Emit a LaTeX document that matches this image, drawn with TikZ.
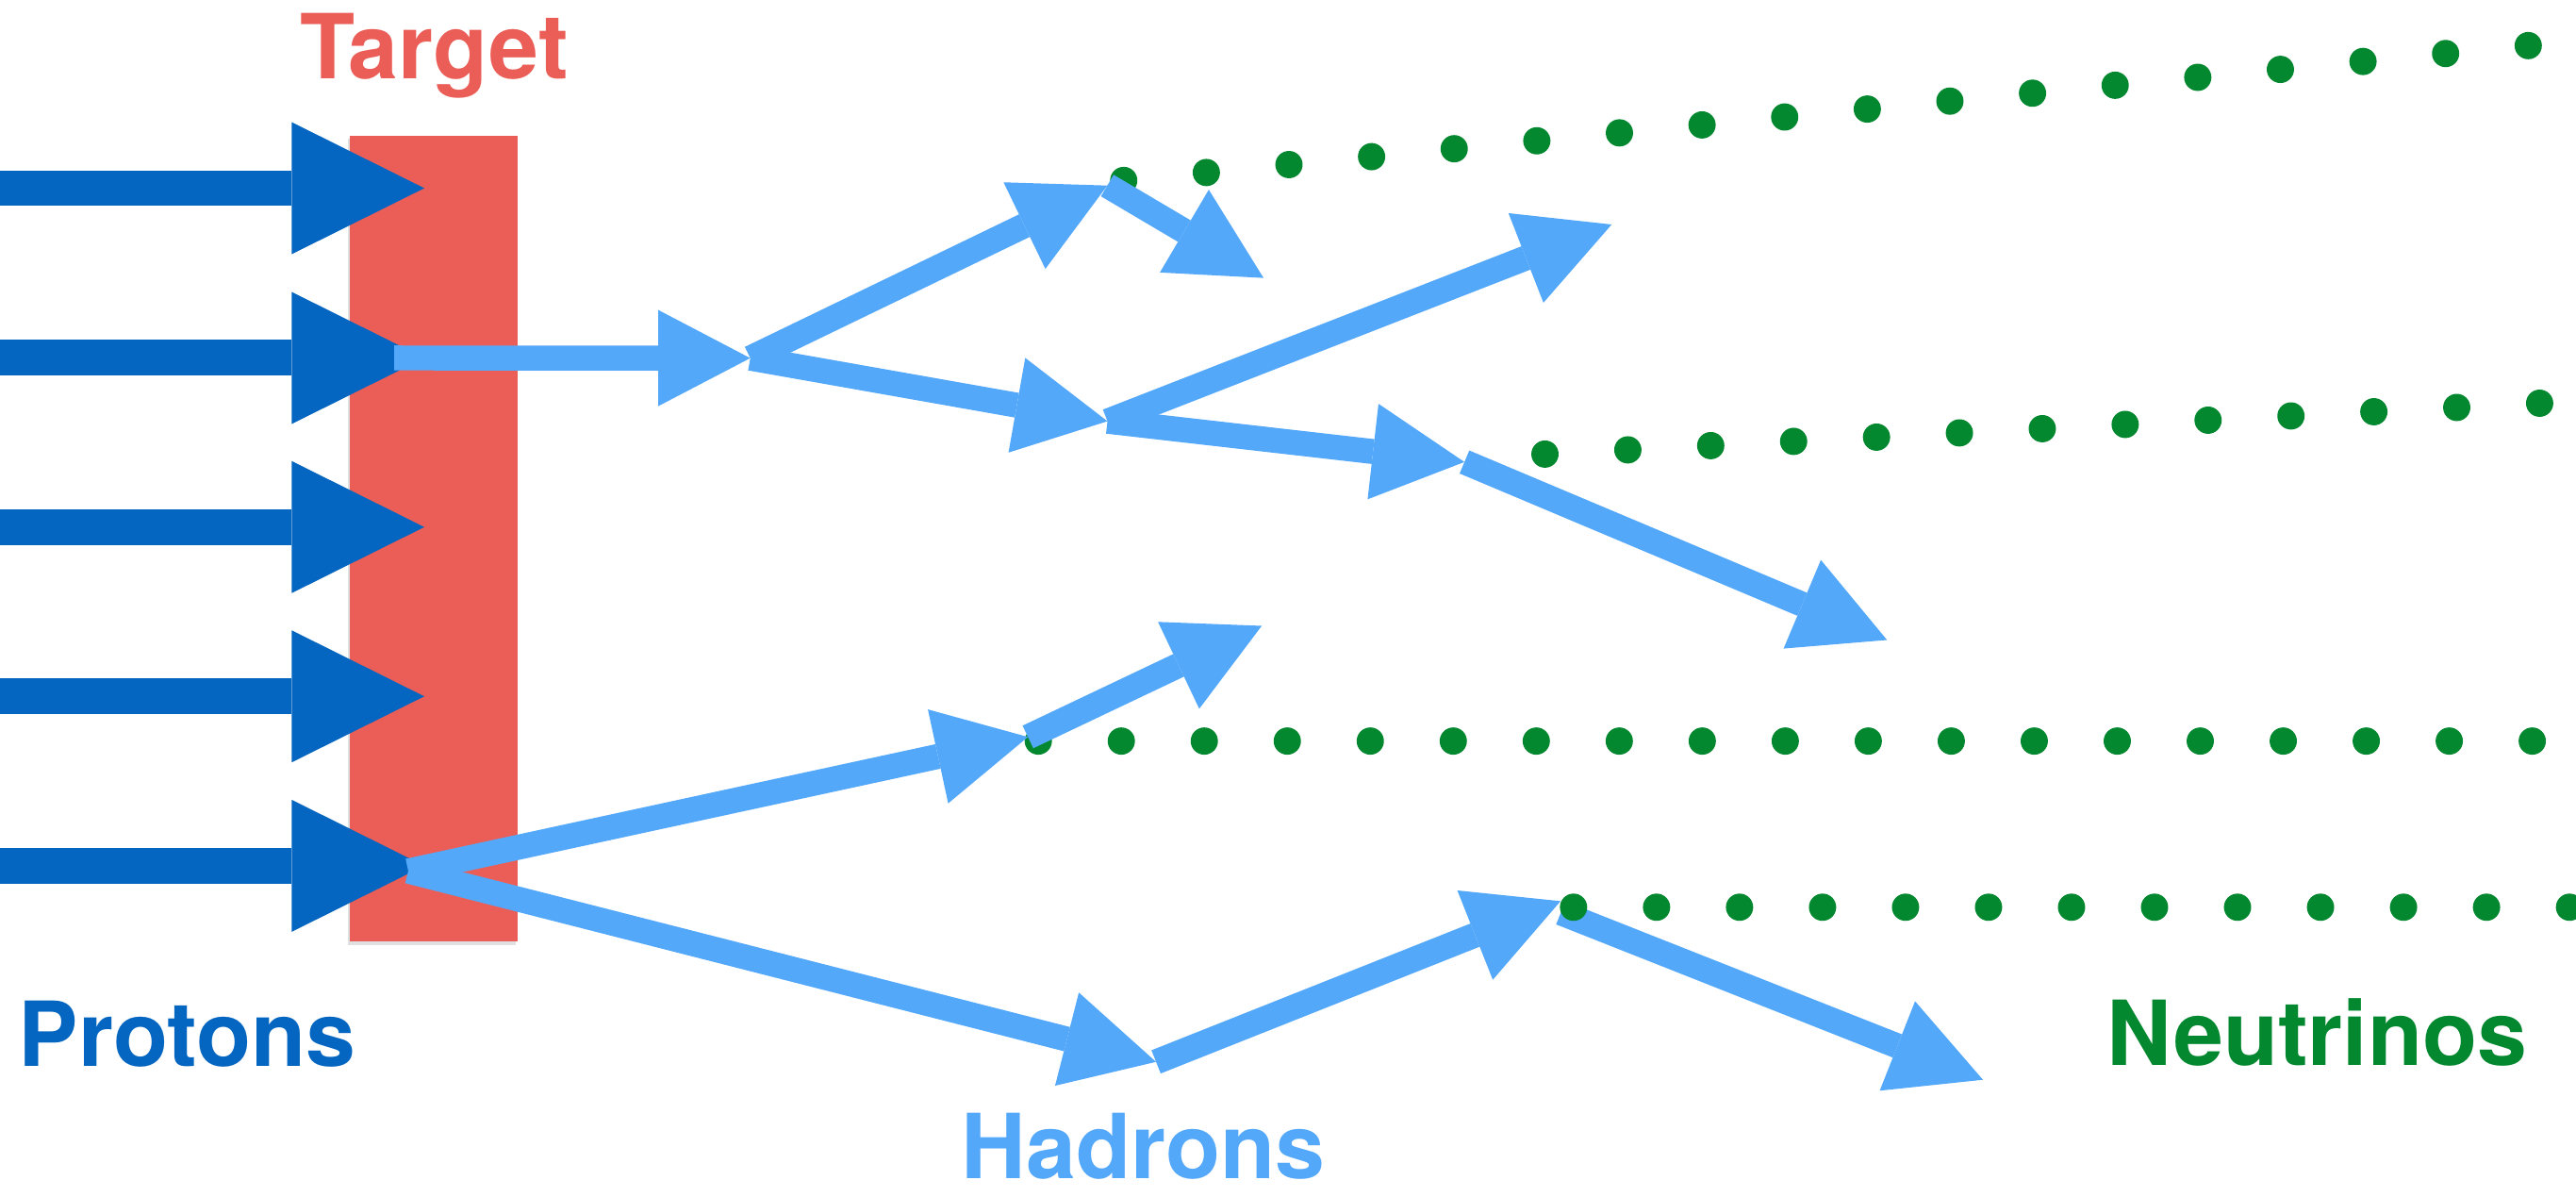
\documentclass[tikz,border=0pt]{standalone}
\usepackage{fontspec}
\setmainfont{TeX Gyre Heros}
\usetikzlibrary{arrows.meta,shadows}
\definecolor{protonblue}{HTML}{0466C0}
\definecolor{hadronblue}{HTML}{54A8F9}
\definecolor{targetred}{HTML}{EB5E57}
\definecolor{nugreen}{HTML}{03882F}
\tikzset{
  protonarrow/.style={draw=protonblue, line width=10.9pt,
    -{Triangle[length=40.35pt,width=40.15pt,line width=0pt]}},
  hadronarrow/.style={draw=hadronblue, line width=7.6pt,
    -{Triangle[length=28pt,width=29.25pt,line width=0pt]}},
  nuline/.style={draw=nugreen, line width=8.3pt, line cap=round,
    dash pattern=on 0pt off 25.26pt},
  bigtext/.style={font=\bfseries\fontsize{27.3pt}{30pt}\selectfont,
    inner sep=0pt, anchor=base},
  targetbox/.style={fill=targetred,
    drop shadow={shadow xshift=-0.5pt, shadow yshift=-1pt, opacity=0.12, fill=black}},
}
\begin{document}
\begin{tikzpicture}[x=0.5pt, y=-0.5pt]
\useasboundingbox (0,0) rectangle (1568,728);
\clip (0,0) rectangle (1568,728);

% target
\path[targetbox] (213,82.6) rectangle (315,573);

% proton arrows
\foreach \i/\yy in {1/114.5, 2/217.8, 3/320.7, 4/423.7, 5/526.8} {
  \coordinate (ps\i) at (-10,\yy);
  \coordinate (pt\i) at (258.3,\yy);
}
\foreach \i in {1,...,5} { \draw[protonarrow] (ps\i) -- (pt\i); }

% hadron vertices
\coordinate (a1s) at (240,217.8);
\coordinate (h1)  at (456.7,217.9);
\coordinate (h2)  at (674,112.9);
\coordinate (h3)  at (769.1,169.1);
\coordinate (h4)  at (674.1,256.3);
\coordinate (h5)  at (981,136.6);
\coordinate (h6)  at (891.4,281.1);
\coordinate (h7)  at (1148.6,389.4);
\coordinate (p5s) at (248.5,530);
\coordinate (h8)  at (625.7,448.4);
\coordinate (h9)  at (768,380.8);
\coordinate (h10) at (703.7,646.1);
\coordinate (h11) at (949.9,548.3);
\coordinate (a12s) at (950,555.4);
\coordinate (h12) at (1207,657);

% neutrino dotted lines (under hadrons)
\coordinate (n1s) at (684,109.8);   \coordinate (n1e) at (1541.96,27.45);
\coordinate (n2s) at (940.4,276.3); \coordinate (n2e) at (1548.7,245.2);
\coordinate (n3s) at (632,450.9);   \coordinate (n3e) at (1543.5,450.9);
\coordinate (n4s) at (957.8,552);   \coordinate (n4e) at (1590,552);
\draw[nuline] (n1s) -- (n1e);
\draw[nuline] (n2s) -- (n2e);
\draw[nuline] (n3s) -- (n3e);

% hadron arrows
\draw[hadronarrow] (a1s) -- (h1);
\draw[hadronarrow] (h1) -- (h2);
\draw[hadronarrow] (h2) -- (h3);
\draw[hadronarrow] (h1) -- (h4);
\draw[hadronarrow] (h4) -- (h5);
\draw[hadronarrow] (h4) -- (h6);
\draw[hadronarrow] (h6) -- (h7);
\draw[hadronarrow] (p5s) -- (h8);
\draw[hadronarrow] (h8) -- (h9);
\draw[hadronarrow] (p5s) -- (h10);
\draw[hadronarrow] (h10) -- (h11);
\draw[hadronarrow] (a12s) -- (h12);

\draw[nuline] (n4s) -- (n4e);

% labels
\node[bigtext, text=targetred]  (target)    at (264.6,48)  {Target};
\node[bigtext, text=protonblue] (protons)   at (114,649)   {Protons};
\node[bigtext, text=hadronblue] (hadrons)   at (696,717)   {Hadrons};
\node[bigtext, text=nugreen]    (neutrinos) at (1410.5,648) {Neutrinos};
\end{tikzpicture}
\end{document}
